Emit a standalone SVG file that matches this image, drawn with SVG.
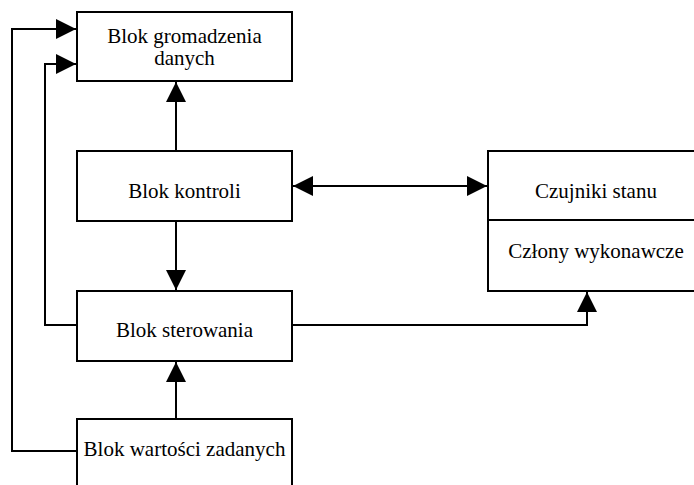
<svg xmlns="http://www.w3.org/2000/svg" width="694" height="485" viewBox="0 0 694 485">
<style>
.box{fill:#fff;stroke:#000;stroke-width:2}
.con{fill:none;stroke:#000;stroke-width:2}
</style>
<defs>
<marker id="ah" viewBox="0 0 20 20" refX="20" refY="10" markerWidth="20" markerHeight="20" markerUnits="userSpaceOnUse" orient="auto-start-reverse">
<path d="M0,0 L20,10 L0,20 Z" fill="#000"/>
</marker>
</defs>
<rect width="694" height="485" fill="#fff"/>
<g id="connectors">
<path class="con" d="M176,151 V82" marker-end="url(#ah)"/>
<path class="con" d="M176,221 V290" marker-end="url(#ah)"/>
<path class="con" d="M176,419 V362" marker-end="url(#ah)"/>
<path class="con" d="M293,186 H487" marker-start="url(#ah)" marker-end="url(#ah)"/>
<path class="con" d="M292,325 H587 V292" marker-end="url(#ah)"/>
<path class="con" d="M77,451 H12 V29 H76" marker-end="url(#ah)"/>
<path class="con" d="M77,325 H45 V64 H76" marker-end="url(#ah)"/>
</g>
<g id="n_gromadzenia">
<rect class="box" x="77" y="12" width="215" height="69"/>
<text x="184.5" y="43" font-size="21" font-family="'Liberation Serif'" text-anchor="middle" style="font-family:'Liberation Serif',serif">Blok gromadzenia</text>
<text x="184.5" y="65" font-size="21" font-family="'Liberation Serif'" text-anchor="middle" style="font-family:'Liberation Serif',serif">danych</text>
</g>
<g id="n_kontroli">
<rect class="box" x="77" y="151" width="215" height="70"/>
<text x="184.5" y="198" font-size="21" font-family="'Liberation Serif'" text-anchor="middle" style="font-family:'Liberation Serif',serif">Blok kontroli</text>
</g>
<g id="n_sterowania">
<rect class="box" x="77" y="291" width="215" height="70"/>
<text x="184.5" y="337" font-size="21" font-family="'Liberation Serif'" text-anchor="middle" style="font-family:'Liberation Serif',serif">Blok sterowania</text>
</g>
<g id="n_wartosci">
<rect class="box" x="77" y="419" width="215" height="75"/>
<text x="184.5" y="456" font-size="21" font-family="'Liberation Serif'" text-anchor="middle" style="font-family:'Liberation Serif',serif">Blok wartości zadanych</text>
</g>
<g id="n_czujniki">
<rect class="box" x="488" y="151" width="216" height="69"/>
<text x="596" y="198" font-size="21" font-family="'Liberation Serif'" text-anchor="middle" style="font-family:'Liberation Serif',serif">Czujniki stanu</text>
</g>
<g id="n_czlony">
<rect class="box" x="488" y="220" width="216" height="71"/>
<text x="596" y="258" font-size="21" font-family="'Liberation Serif'" text-anchor="middle" style="font-family:'Liberation Serif',serif">Człony wykonawcze</text>
</g>
</svg>
